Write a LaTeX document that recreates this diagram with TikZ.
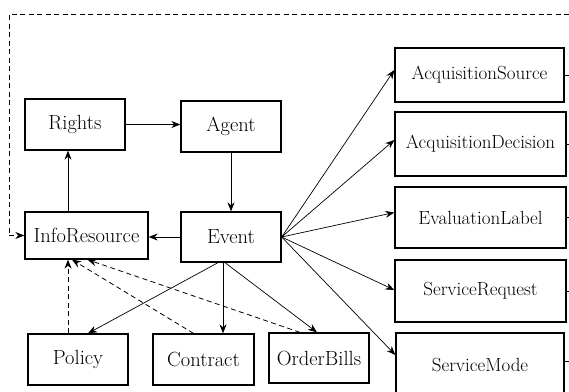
\documentclass[tikz,border=0pt]{standalone}
\usetikzlibrary{arrows.meta}
\begin{document}
\begin{tikzpicture}[x=1pt,y=-1pt,
  box/.style={draw,line width=1.3pt,inner sep=0pt,font=\rmfamily\fontsize{20.5}{24}\selectfont},
  rbox/.style={draw,line width=1.3pt,inner sep=0pt,minimum width=171pt,font=\rmfamily\fontsize{19}{22}\selectfont},
  arr/.style={line width=0.7pt,-{Stealth[length=9pt,width=7pt]}},
  darr/.style={line width=0.8pt,dash pattern=on 5pt off 3.5pt,-{Stealth[length=9pt,width=7pt]}},
  stub/.style={line width=0.7pt}]
\useasboundingbox (0,0) rectangle (569,391);
\clip (0,0) rectangle (569,391);
% left nodes
\node[box,minimum width=100pt,minimum height=51pt] (rights) at (75,124.5) {Rights};
\node[box,minimum width=100pt,minimum height=51pt] (agent) at (231,126.5) {Agent};
\node[box,minimum width=123pt,minimum height=47pt] (info) at (86.5,235.5) {InfoResource};
\node[box,minimum width=100pt,minimum height=50pt] (event) at (231,237) {Event};
\node[box,minimum width=100pt,minimum height=51pt] (policy) at (78,359.5) {Policy};
\node[box,minimum width=101pt,minimum height=51pt] (contract) at (203.5,359.5) {Contract};
\node[box,minimum width=100pt,minimum height=50pt] (order) at (319,358) {OrderBills};
% right nodes
\node[rbox,minimum width=169pt,minimum height=54pt] (acqsrc) at (479.5,75) {AcquisitionSource};
\node[rbox,minimum height=64pt] (acqdec) at (480.5,144) {AcquisitionDecision};
\node[rbox,minimum height=61pt] (evallab) at (480.5,217.5) {EvaluationLabel};
\node[rbox,minimum height=62pt] (servreq) at (480.5,291) {ServiceRequest};
\node[rbox,minimum width=168pt,minimum height=64pt] (servmode) at (480,365) {ServiceMode};
% helper coordinates
\coordinate (xl) at (68,0);
\coordinate (re) at (569,0);
\coordinate (tr) at (569,14);
\coordinate (tl) at (9,14);
% solid connectors
\draw[arr] (rights.east) -- (rights.east -| agent.west);
\draw[arr] (agent.south) -- (event.north);
\draw[arr] (info.north -| xl) -- (rights.south -| xl);
\draw[arr] (event.west) -- (event.west -| info.east);
\draw[arr] ([xshift=-13pt]event.south) -- ([xshift=10pt]policy.north);
\draw[arr] ([xshift=-8pt]event.south) -- ([xshift=-8pt]event.south |- contract.north);
\draw[arr] ([xshift=-6pt]event.south) -- ([xshift=-2pt]order.north);
\draw[arr] (event.east) -- ([yshift=5pt]acqsrc.west);
\draw[arr] (event.east) -- ([yshift=4pt]acqdec.west);
\draw[arr] (event.east) -- ([yshift=5pt]evallab.west);
\draw[arr] (event.east) -- ([yshift=1pt]servreq.west);
\draw[arr] (event.east) -- ([yshift=10pt]servmode.west);
% dashed connectors
\draw[darr] (policy.north -| xl) -- (info.south -| xl);
\draw[darr] ([xshift=-10pt]contract.north) -- ([xshift=-14.5pt]info.south);
\draw[darr] ([xshift=-19pt]order.north) -- ([xshift=1pt]info.south);
\draw[darr] (tr) -- (tl) |- (info.west);
% right stubs
\draw[stub] (acqsrc.east) -- (acqsrc.east -| re);
\draw[stub] (acqdec.east) -- (acqdec.east -| re);
\draw[stub] (evallab.east) -- (evallab.east -| re);
\draw[stub] (servreq.east) -- (servreq.east -| re);
\draw[stub] ([yshift=4pt]servmode.east) -- ([yshift=4pt]servmode.east -| re);
\end{tikzpicture}
\end{document}
